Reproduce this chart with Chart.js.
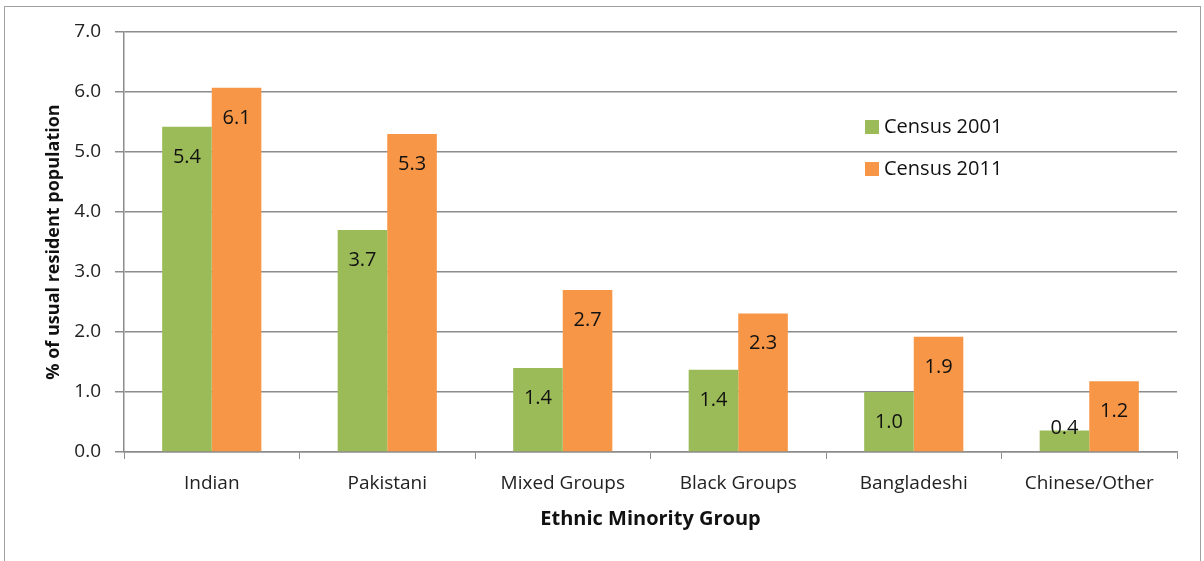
<!DOCTYPE html>
<html>
<head>
<meta charset="utf-8">
<script src="https://cdn.jsdelivr.net/npm/chart.js@4.4.1/dist/chart.umd.min.js"></script>
<style>
  html, body { margin: 0; padding: 0; background: #fff; overflow: hidden; }
  canvas { display: block; }
</style>
</head>
<body>
<canvas id="grafico" width="1204" height="561"></canvas>
<script>
// ─── Dados ────────────────────────────────────────────────────────────────────
const grupos     = ['Indian', 'Pakistani', 'Mixed Groups', 'Black Groups', 'Bangladeshi', 'Chinese/Other'];
const censo2001  = [5.42, 3.70, 1.40, 1.37, 1.00, 0.36];
const censo2011  = [6.07, 5.30, 2.70, 2.31, 1.92, 1.18];
const series     = ['Census 2001', 'Census 2011'];
const cores      = ['#9BBB59', '#F79646'];

const FONTE = '"Open Sans", Lato, sans-serif';

// ─── Plugin: moldura, rótulos de dados e legenda ─────────────────────────────
const extras = {
  id: 'extras',
  beforeDraw(chart) {
    const ctx = chart.ctx;
    ctx.save();
    ctx.strokeStyle = '#a0a0a0';
    ctx.lineWidth = 1;
    ctx.strokeRect(4.5, 6.5, 1196, 600);
    ctx.restore();
  },
  afterDatasetsDraw(chart) {
    const ctx = chart.ctx;
    const base = chart.scales.y.getPixelForValue(0);
    ctx.save();
    ctx.font = '20px ' + FONTE;
    ctx.fillStyle = '#111';
    ctx.textAlign = 'center';
    ctx.textBaseline = 'middle';
    chart.data.datasets.forEach((ds, i) => {
      chart.getDatasetMeta(i).data.forEach((bar, j) => {
        const y = Math.min(bar.y + 30, base - 24);
        ctx.fillText(ds.data[j].toFixed(1), bar.x, y);
      });
    });
    // legenda
    ctx.textAlign = 'left';
    ctx.font = '20px ' + FONTE;
    chart.data.datasets.forEach((ds, i) => {
      const y = 127 + i * 42;
      ctx.fillStyle = ds.backgroundColor;
      ctx.fillRect(865, y - 7, 14, 14);
      ctx.fillStyle = '#111';
      ctx.fillText(ds.label, 884, y);
    });
    ctx.restore();
  }
};

// ─── Gráfico ─────────────────────────────────────────────────────────────────
new Chart(document.getElementById('grafico'), {
  type: 'bar',
  data: {
    labels: grupos,
    datasets: [
      { label: series[0], data: censo2001, backgroundColor: cores[0] },
      { label: series[1], data: censo2011, backgroundColor: cores[1] },
    ],
  },
  options: {
    responsive: false,
    animation: false,
    devicePixelRatio: 1,
    layout: { padding: { left: 43, top: 32, right: 27, bottom: 30 } },
    datasets: { bar: { categoryPercentage: 0.565, barPercentage: 1.0 } },
    plugins: {
      legend: { display: false },
      tooltip: { enabled: false },
    },
    scales: {
      x: {
        afterFit: s => { s.height = 79; },
        grid: { drawOnChartArea: false, drawTicks: true, tickLength: 7, color: '#8c8c8c' },
        border: { color: '#8c8c8c', width: 1.5 },
        ticks: { padding: 13, color: '#222', font: { family: FONTE, size: 19 } },
        title: {
          display: true, text: 'Ethnic Minority Group',
          color: '#111', font: { family: FONTE, size: 20, weight: 'bold' },
          padding: { top: 0, bottom: 0 },
        },
      },
      y: {
        min: 0, max: 7,
        afterFit: s => { s.width = 81; },
        grid: { color: '#8c8c8c', lineWidth: 1.5, tickLength: 9 },
        border: { color: '#8c8c8c', width: 1.5 },
        ticks: {
          stepSize: 1, padding: 14, color: '#222',
          font: { family: FONTE, size: 19 },
          callback: v => v.toFixed(1),
        },
        title: {
          display: true, text: '% of usual resident population',
          color: '#111', font: { family: FONTE, size: 18, weight: 'bold' },
          padding: { top: 0, bottom: 0 },
        },
      },
    },
  },
  plugins: [extras],
});
</script>
</body>
</html>
